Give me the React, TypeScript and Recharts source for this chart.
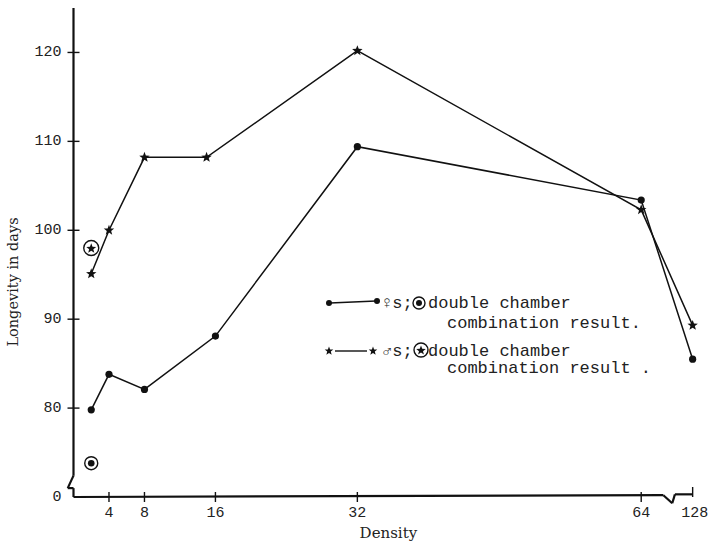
import React from 'react';
import {
  ComposedChart,
  Line,
  Scatter,
  XAxis,
  YAxis,
  ReferenceLine,
  Legend,
} from 'recharts';

// densities (the 128 point sits past an axis break)
const FEMALE_DENSITY = [2, 4, 8, 16, 32, 64, 128];
const FEMALE_DAYS = [79.8, 83.8, 82.1, 88.1, 109.4, 103.4, 85.5];
const MALE_DENSITY = [2, 4, 8, 15, 32, 64, 128];
const MALE_DAYS = [95.1, 100, 108.2, 108.2, 120.2, 102.3, 89.3];

// double chamber combination results
const FEMALE_DOUBLE = [{ density: 2, days: 73.8 }];
const MALE_DOUBLE = [{ density: 2, days: 98 }];

const X_TICKS = [4, 8, 16, 32, 64, 128];
const Y_TICKS = [70, 80, 90, 100, 110, 120];

const MONO = '"Liberation Mono", "DejaVu Sans Mono", monospace';
const SERIF = '"DejaVu Serif", "Liberation Serif", serif';

// broken x axis: everything up to 64 is linear, 128 is squeezed in after the break
const axisPos = (d: number) => (d <= 64 ? d : 69.8);

const femaleData = FEMALE_DENSITY.map((d, i) => ({ x: axisPos(d), y: FEMALE_DAYS[i] }));
const maleData = MALE_DENSITY.map((d, i) => ({ x: axisPos(d), y: MALE_DAYS[i] }));
const femaleDouble = FEMALE_DOUBLE.map((p) => ({ x: axisPos(p.density), y: p.days }));
const maleDouble = MALE_DOUBLE.map((p) => ({ x: axisPos(p.density), y: p.days }));

function starPath(cx: number, cy: number, R: number, r: number) {
  let d = '';
  for (let i = 0; i < 10; i++) {
    const rad = i % 2 === 0 ? R : r;
    const a = -Math.PI / 2 + (i * Math.PI) / 5;
    d += `${i === 0 ? 'M' : 'L'}${(cx + rad * Math.cos(a)).toFixed(2)},${(cy + rad * Math.sin(a)).toFixed(2)}`;
  }
  return d + 'Z';
}

function DotMark(props: any) {
  const { cx, cy, index } = props;
  if (cx == null || cy == null) return <g key={`d-${index}`} />;
  return <circle key={`d-${index}`} cx={cx} cy={cy} r={3.6} fill="#111" />;
}

function StarMark(props: any) {
  const { cx, cy, index } = props;
  if (cx == null || cy == null) return <g key={`s-${index}`} />;
  return <path key={`s-${index}`} d={starPath(cx, cy, 5.5, 2.3)} fill="#111" />;
}

function CircledDot(props: any) {
  const { cx, cy } = props;
  return (
    <g>
      <circle cx={cx} cy={cy} r={6.5} fill="none" stroke="#111" strokeWidth={1.4} />
      <circle cx={cx} cy={cy} r={3.3} fill="#111" />
    </g>
  );
}

function CircledStar(props: any) {
  const { cx, cy } = props;
  return (
    <g>
      <circle cx={cx} cy={cy} r={7.5} fill="none" stroke="#111" strokeWidth={1.4} />
      <path d={starPath(cx, cy + 0.5, 5.2, 2.2)} fill="#111" />
    </g>
  );
}

function YTick(props: any) {
  const { x, y, payload } = props;
  const v = payload.value;
  return (
    <g>
      {v !== 70 && <line x1={x + 6} x2={x + 18} y1={y} y2={y} stroke="#111" strokeWidth={1.4} />}
      <text x={x} y={y} textAnchor="end" dominantBaseline="central" fontFamily={MONO} fontSize={15} fill="#222">
        {v === 70 ? '0' : v}
      </text>
    </g>
  );
}

function XTick(props: any) {
  const { x, y, payload } = props;
  const label = X_TICKS[X_TICKS.map(axisPos).indexOf(payload.value)];
  const last = label === 128;
  return (
    <g>
      <line x1={x} x2={x} y1={last ? y - 18 : y - 13} y2={last ? y - 8 : y - 3} stroke="#111" strokeWidth={1.4} />
      <text x={x + (last ? 2 : 0)} y={y + 8} textAnchor="middle" dominantBaseline="central" fontFamily={MONO} fontSize={15} fill="#222">
        {label}
      </text>
    </g>
  );
}

function LegendBox() {
  const txt = { fontFamily: MONO, fontSize: 17, fill: '#222' };
  return (
    <svg width={370} height={92}>
      <line x1={8} y1={13} x2={54} y2={11} stroke="#111" strokeWidth={1.4} />
      <circle cx={7} cy={13} r={3} fill="#111" />
      <circle cx={55} cy={11} r={3} fill="#111" />
      <text x={60} y={18} {...txt}>♀s;</text>
      <circle cx={97} cy={13} r={6} fill="none" stroke="#111" strokeWidth={1.4} />
      <circle cx={97} cy={13} r={3} fill="#111" />
      <text x={106} y={18} {...txt}>double chamber</text>
      <text x={125} y={38} {...txt}>combination result.</text>

      <line x1={13} y1={61} x2={45} y2={61} stroke="#111" strokeWidth={1.4} />
      <path d={starPath(7, 61, 4.5, 1.9)} fill="#111" />
      <path d={starPath(51, 61, 4.5, 1.9)} fill="#111" />
      <text x={60} y={66} {...txt}>♂s;</text>
      <circle cx={99} cy={60} r={7} fill="none" stroke="#111" strokeWidth={1.4} />
      <path d={starPath(99, 60.5, 5, 2.1)} fill="#111" />
      <text x={106} y={66} {...txt}>double chamber</text>
      <text x={125} y={83} {...txt}>combination result .</text>
    </svg>
  );
}

export default function App() {
  const axisStroke = { stroke: '#111', strokeWidth: 2.2, ifOverflow: 'visible' as const };
  return (
    <div style={{ position: 'absolute', left: 0, top: 0, background: '#fff' }}>
      <ComposedChart width={711} height={542} margin={{ top: 8, right: 7.7, left: 0, bottom: 0 }}>
        <XAxis
          type="number"
          dataKey="x"
          domain={[0, 71]}
          ticks={X_TICKS.map(axisPos)}
          axisLine={false}
          tickLine={false}
          tickSize={6}
          tickMargin={2}
          height={45}
          tick={<XTick />}
          label={{ value: 'Density', position: 'insideBottom', offset: 4, fontFamily: SERIF, fontSize: 15, fill: '#222' }}
        />
        <YAxis
          type="number"
          dataKey="y"
          domain={[70, 125]}
          ticks={Y_TICKS}
          axisLine={false}
          tickLine={false}
          tickSize={6}
          tickMargin={6}
          width={73.5}
          tick={<YTick />}
        />

        {/* broken y axis */}
        <ReferenceLine segment={[{ x: 0, y: 125 }, { x: 0, y: 72.4 }]} {...axisStroke} />
        <ReferenceLine segment={[{ x: 0, y: 72.4 }, { x: -0.65, y: 71.0 }]} {...axisStroke} />
        <ReferenceLine segment={[{ x: -0.65, y: 71.0 }, { x: 0, y: 71.0 }]} {...axisStroke} />
        <ReferenceLine segment={[{ x: 0, y: 71.0 }, { x: 0, y: 70 }]} {...axisStroke} />
        {/* broken x axis */}
        <ReferenceLine segment={[{ x: 0, y: 70 }, { x: 66.5, y: 70.2 }]} {...axisStroke} />
        <ReferenceLine segment={[{ x: 66.5, y: 70.2 }, { x: 67.5, y: 69.3 }]} {...axisStroke} />
        <ReferenceLine segment={[{ x: 67.5, y: 69.3 }, { x: 67.8, y: 70.3 }]} {...axisStroke} />
        <ReferenceLine segment={[{ x: 67.8, y: 70.3 }, { x: 69.8, y: 70.3 }]} {...axisStroke} />

        <Line
          data={femaleData}
          dataKey="y"
          type="linear"
          stroke="#111"
          strokeWidth={1.5}
          dot={(p: any) => <DotMark {...p} />}
          activeDot={false}
          isAnimationActive={false}
        />
        <Line
          data={maleData}
          dataKey="y"
          type="linear"
          stroke="#111"
          strokeWidth={1.5}
          dot={(p: any) => <StarMark {...p} />}
          activeDot={false}
          isAnimationActive={false}
        />
        <Scatter data={femaleDouble} dataKey="y" shape={(p: any) => <CircledDot {...p} />} isAnimationActive={false} />
        <Scatter data={maleDouble} dataKey="y" shape={(p: any) => <CircledStar {...p} />} isAnimationActive={false} />

        <Legend
          layout="vertical"
          align="center"
          verticalAlign="middle"
          content={() => <LegendBox />}
          wrapperStyle={{ left: 322, top: 290, width: 370, height: 92 }}
        />

        <text
          x={13}
          y={282}
          transform="rotate(-90 13 282)"
          textAnchor="middle"
          dominantBaseline="central"
          fontFamily={SERIF}
          fontSize={14.5}
          fill="#222"
        >
          Longevity in days
        </text>
      </ComposedChart>
    </div>
  );
}
